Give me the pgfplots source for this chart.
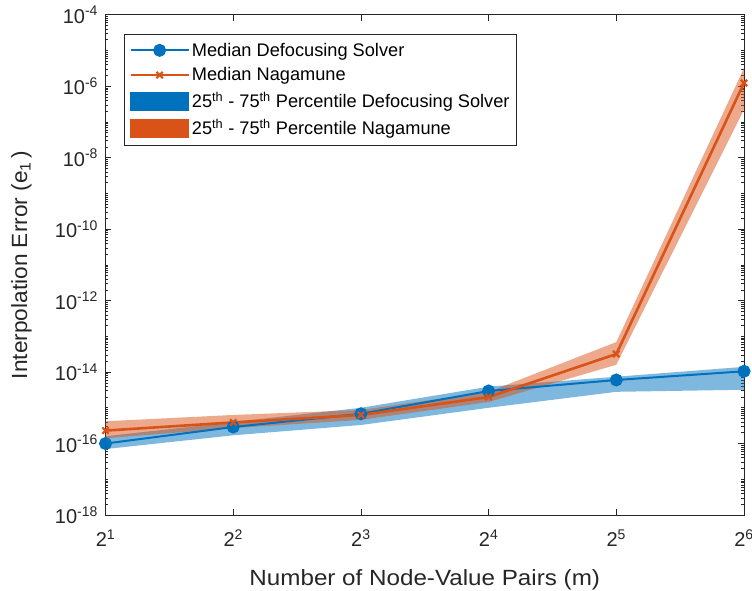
\documentclass[border=0pt]{standalone}
\usepackage{fontspec}
\setmainfont{Liberation Sans}
\usepackage{pgfplots}
\pgfplotsset{compat=1.18}
\usepackage{pgfplotstable}
\usepgfplotslibrary{fillbetween}

\definecolor{mblue}{rgb}{0,0.447,0.741}
\definecolor{morange}{rgb}{0.850,0.325,0.098}
\definecolor{axgray}{rgb}{0.15,0.15,0.15}

% median and 25th/75th percentile of the interpolation error
\pgfplotstableread{
m   dmed     dlo      dhi      nmed     nlo      nhi
2   1.0e-16  7.0e-17  1.6e-16  2.3e-16  1.4e-16  4.2e-16
4   2.9e-16  1.7e-16  4.0e-16  3.9e-16  2.7e-16  6.3e-16
8   6.8e-16  3.3e-16  1.0e-15  6.3e-16  4.6e-16  8.7e-16
16  2.95e-15 1.0e-15  3.9e-15  2.0e-15  1.45e-15 2.8e-15
32  6.0e-15  2.8e-15  7.4e-15  3.2e-14  1.6e-14  6.9e-14
64  1.05e-14 3.2e-15  1.4e-14  1.23e-6  2.2e-7   3.2e-6
}\errdata

% minor ticks at every m x 10^e
\def\minorticks{}
\pgfplotsforeachungrouped \e in {-18,...,-5}{%
  \pgfplotsforeachungrouped \m in {1,...,9}{%
    \edef\minorticks{\minorticks\m e\e,}%
  }%
}

\newcommand{\p}[1]{10\textsuperscript{-#1}}
\newcommand{\q}[1]{2\textsuperscript{#1}}

\begin{document}
\begin{tikzpicture}
\begin{axis}[
  scale only axis,
  width=638.5pt, height=500.3pt,
  xmode=log, log basis x=2,
  ymode=log,
  xmin=2, xmax=64,
  ymin=1e-18, ymax=1e-4,
  xtick={2,4,8,16,32,64},
  xticklabels={\q{1},\q{2},\q{3},\q{4},\q{5},\q{6}},
  minor xtick={},
  ytick={1e-18,1e-16,1e-14,1e-12,1e-10,1e-8,1e-6,1e-4},
  yticklabels={\p{18},\p{16},\p{14},\p{12},\p{10},\p{8},\p{6},\p{4}},
  minor ytick/.expanded={\minorticks 1e-4},
  tick align=inside,
  major tick length=6pt,
  minor tick length=3pt,
  axis line style={axgray, line width=0.6pt},
  every tick/.style={axgray, line width=0.6pt},
  tick label style={font=\fontsize{20}{24}\selectfont, text=axgray},
  yticklabel style={xshift=-4pt},
  xticklabel style={yshift=-11pt},
  every axis x label/.style={at={(rel axis cs:0.5,0)}, yshift=-65pt, anchor=center,
     font=\fontsize{22}{26}\selectfont, text=axgray},
  every axis y label/.style={at={(rel axis cs:0,0.5)}, xshift=-84pt, rotate=90, anchor=center,
     font=\fontsize{22}{26}\selectfont, text=axgray},
  xlabel={\scalebox{1.1}[1]{Number of Node-Value Pairs (m)}},
  ylabel={\scalebox{1.03}[1]{Interpolation Error (e\textsubscript{1}\,)}},
  legend style={at={(rel axis cs:0.029,0.962)}, anchor=north west,
     draw=axgray, line width=0.6pt, fill=white,
     font=\fontsize{18.2}{21}\selectfont, row sep=6pt,
     inner xsep=5pt, inner ysep=7pt},
  legend cell align=left,
  legend image code/.code={%
    \draw[mark repeat=2,mark phase=2,#1] plot coordinates {(0pt,0pt)(29pt,0pt)(58pt,0pt)};},
  clip=false,
]
% legend entries
\addlegendimage{draw=mblue, line width=2pt, mark=*, mark size=5.5pt, mark options={solid, fill=mblue}}
\addlegendentry{Median Defocusing Solver}
\addlegendimage{draw=morange, line width=2.6pt, mark=x, mark size=4.5pt, mark options={solid, line width=2.2pt}}
\addlegendentry{Median Nagamune}
\addlegendimage{legend image code/.code={\fill[mblue] (0pt,-9pt) rectangle (58pt,9pt);}}
\addlegendentry{25\textsuperscript{th} - 75\textsuperscript{th} Percentile Defocusing Solver}
\addlegendimage{legend image code/.code={\fill[morange] (0pt,-9pt) rectangle (58pt,9pt);}}
\addlegendentry{25\textsuperscript{th} - 75\textsuperscript{th} Percentile Nagamune}

% defocusing solver: percentile band, then median
\addplot[draw=none, name path=dlo, forget plot] table[x=m, y=dlo] {\errdata};
\addplot[draw=none, name path=dhi, forget plot] table[x=m, y=dhi] {\errdata};
\addplot[fill=mblue, fill opacity=0.5, draw=none, forget plot] fill between[of=dlo and dhi];
\addplot[draw=mblue, line width=2pt, mark=*, mark size=5.5pt, mark options={fill=mblue}, forget plot] table[x=m, y=dmed] {\errdata};

% Nagamune: percentile band, then median
\addplot[draw=none, name path=nlo, forget plot] table[x=m, y=nlo] {\errdata};
\addplot[draw=none, name path=nhi, forget plot] table[x=m, y=nhi] {\errdata};
\addplot[fill=morange, fill opacity=0.5, draw=none, forget plot] fill between[of=nlo and nhi];
\addplot[draw=morange, line width=2.6pt, mark=x, mark size=4.5pt, mark options={line width=2.2pt}, forget plot] table[x=m, y=nmed] {\errdata};

\coordinate (ll) at (rel axis cs:0,0);
\coordinate (ur) at (rel axis cs:1,1);
\end{axis}
\pgfresetboundingbox
\path ([shift={(-105.5pt,-75pt)}]ll) rectangle ([shift={(8pt,14.7pt)}]ur);
\end{tikzpicture}
\end{document}
